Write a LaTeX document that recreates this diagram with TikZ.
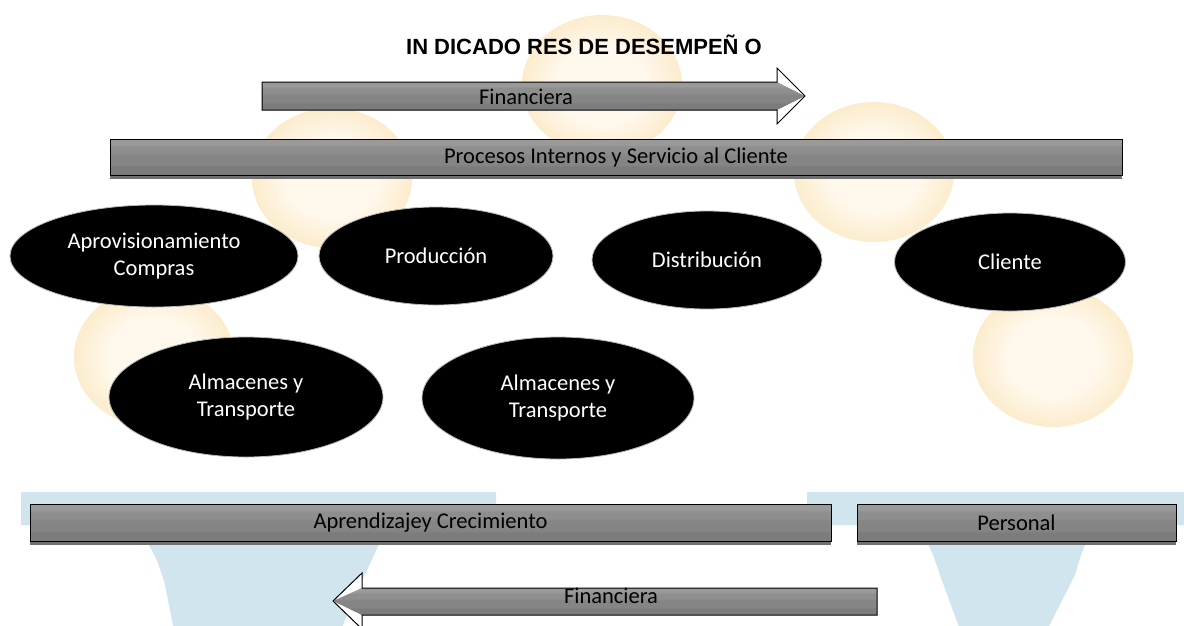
\documentclass[tikz,border=0pt]{standalone}
\usepackage{fontspec}
\setmainfont{Carlito}
\newfontfamily\titlefont{Liberation Sans}
\usetikzlibrary{shapes.geometric,shadows}
\definecolor{wmin}{RGB}{255,248,236}
\definecolor{wmout}{RGB}{252,236,205}
\definecolor{wmcyan}{RGB}{208,229,238}
\definecolor{gtop}{RGB}{154,154,154}
\definecolor{gmid}{RGB}{142,142,142}
\definecolor{gmid2}{RGB}{133,133,133}
\definecolor{gbot}{RGB}{124,124,124}
\definecolor{shadowgray}{RGB}{112,112,112}
\pgfdeclareverticalshading{barshade}{100bp}{color(0bp)=(gbot); color(36bp)=(gbot); color(40bp)=(gmid2); color(52bp)=(gmid2); color(56bp)=(gmid); color(64bp)=(gmid); color(68bp)=(gtop); color(100bp)=(gtop)}
\pgfdeclareradialshading{wmshade}{\pgfpoint{0bp}{0bp}}{color(0bp)=(wmin); color(14bp)=(wmin); color(25bp)=(wmout); color(50bp)=(wmout)}
\tikzset{
  wm/.style={ellipse, minimum width=160pt, minimum height=140pt, shading=wmshade, draw=none, inner sep=0pt},
  bar/.style={rectangle, draw=black, line width=1pt, shading=barshade, inner sep=0pt,
    drop shadow={shadow xshift=0pt, shadow yshift=-4pt, fill=shadowgray, opacity=1},
    font=\fontsize{22.5}{26}\selectfont},
  blob/.style={ellipse, fill=black, draw=gray!55, line width=0.8pt, inner sep=0pt,
    text=white, align=center, font=\fontsize{22.5}{27.5}\selectfont},
  arrowbody/.style={shading=barshade, draw=none},
  arrowline/.style={draw=black, line width=1pt, line join=miter},
  lbl/.style={font=\fontsize{22.5}{26}\selectfont, inner sep=0pt}
}
\begin{document}
\begin{tikzpicture}[x=1pt,y=-1pt]
\useasboundingbox (0,0) rectangle (1184,625);
\fill[white] (0,0) rectangle (1184,625);
% watermark circles
\node[wm] (w1) at (602,85) {};
\node[wm] (w2) at (332,178) {};
\node[wm] (w3) at (154,357) {};
\node[wm] (w4) at (874,172) {};
\node[wm] (w5) at (1053,357) {};
% watermark cyan shapes
\fill[wmcyan] (21,492) -- (496,492) -- (496,525) -- (390,525) .. controls (380,540) and (372,560) .. (360,585) -- (341,630) -- (174,630) -- (165,585) .. controls (158,560) and (150,540) .. (130,525) -- (21,525) -- cycle;
\fill[wmcyan] (807,492) -- (1190,492) -- (1190,525) -- (1095,525) .. controls (1088,535) and (1082,550) .. (1075,575) -- (1047,630) -- (960,630) -- (940,575) .. controls (932,550) and (925,535) .. (915,525) -- (807,525) -- cycle;
% title
\node[font=\titlefont\bfseries\fontsize{22}{26}\selectfont, inner sep=0pt] (title) at (584,45) {IN DICADO RES DE DESEMPEÑ O};
% top arrow
\fill[white] (262,82) -- (777,82) -- (777,68) -- (805,96) -- (777,124) -- (777,110) -- (262,110) -- cycle;
\path[arrowbody] (262,82) -- (777,82) -- (805,96) -- (777,110) -- (262,110) -- cycle;
\draw[arrowline] (262,82) -- (777,82) -- (777,68) -- (805,96) -- (777,124) -- (777,110) -- (262,110) -- cycle;
\node[lbl] (fin1) at (526,97) {Financiera};
% procesos bar
\node[bar, minimum width=1012pt, minimum height=36pt] (proc) at (616,157) {Procesos Internos y Servicio al Cliente};
% ellipses
\node[blob, minimum width=288pt, minimum height=102pt] (aprov) at (154,256) {Aprovisionamiento\\Compras};
\node[blob, minimum width=234pt, minimum height=98pt] (prod) at (436,256) {Producción};
\node[blob, minimum width=230pt, minimum height=98pt] (dist) at (707,260) {Distribución};
\node[blob, minimum width=231pt, minimum height=98pt] (cli) at (1010,262) {Cliente};
\node[blob, minimum width=274pt, minimum height=120pt] (alm1) at (246,397) {Almacenes y\\Transporte};
\node[blob, minimum width=272pt, minimum height=122pt] (alm2) at (558,398) {Almacenes y\\Transporte};
% bottom bars
\node[bar, minimum width=801pt, minimum height=37pt] (apr) at (430.5,522.5) {Aprendizajey Crecimiento};
\node[bar, minimum width=319pt, minimum height=37pt] (pers) at (1016.5,522.5) {Personal};
% bottom arrow
\fill[white] (877,588) -- (362,588) -- (362,573) -- (333,601) -- (362,629) -- (362,615) -- (877,615) -- cycle;
\path[arrowbody] (877,588) -- (362,588) -- (333,601) -- (362,615) -- (877,615) -- cycle;
\draw[arrowline] (877,588) -- (362,588) -- (362,573) -- (333,601) -- (362,629) -- (362,615) -- (877,615) -- cycle;
\node[lbl] (fin2) at (611,596) {Financiera};
\end{tikzpicture}
\end{document}
